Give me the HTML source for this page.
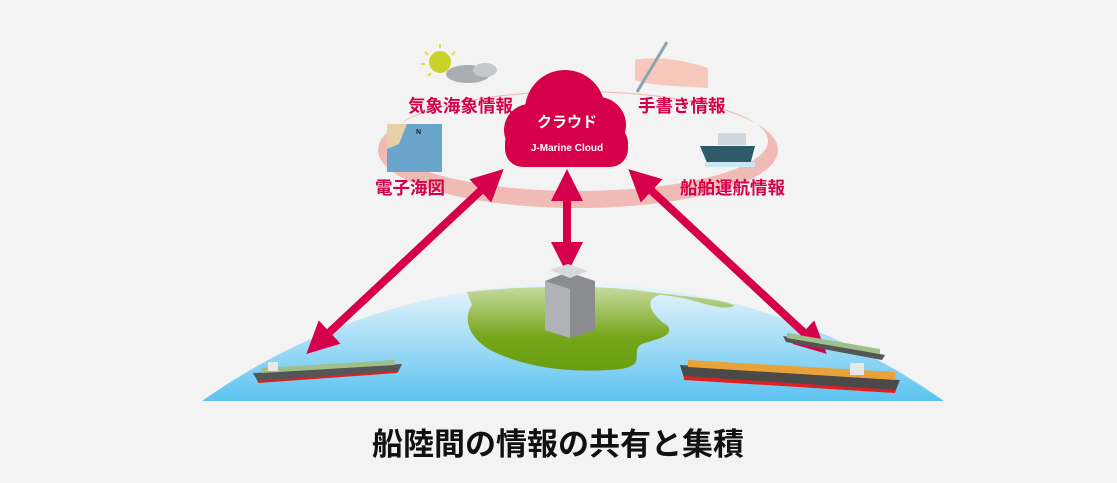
<!DOCTYPE html>
<html><head><meta charset="utf-8"><style>
html,body{margin:0;padding:0;background:#f3f3f3;overflow:hidden;width:1117px;height:483px}
svg{display:block}
text{font-family:"Liberation Sans","Noto Sans CJK JP",sans-serif;font-weight:bold}
</style></head><body>
<svg width="1117" height="483" viewBox="0 0 1117 483" xmlns="http://www.w3.org/2000/svg">
<defs>
<linearGradient id="sea" gradientUnits="userSpaceOnUse" x1="0" y1="283" x2="0" y2="401"><stop offset="0" stop-color="#eaf6fc"/><stop offset="1" stop-color="#5cc3f0"/></linearGradient>
<linearGradient id="land" gradientUnits="userSpaceOnUse" x1="0" y1="286" x2="0" y2="372"><stop offset="0" stop-color="#c8dba0"/><stop offset="0.6" stop-color="#75a51a"/><stop offset="1" stop-color="#6a9e12"/></linearGradient>
<clipPath id="gc"><rect x="0" y="0" width="1117" height="401"/></clipPath>
<marker id="ah" markerWidth="4" markerHeight="4" refX="2" refY="2" orient="auto-start-reverse" markerUnits="strokeWidth"><path d="M0,0 L4,2 L0,4 z" fill="#d6004a"/></marker>
</defs>
<rect width="1117" height="483" fill="#f3f3f3"/>
<g clip-path="url(#gc)">
<circle cx="573" cy="925" r="642" fill="url(#sea)"/>
<path d="M467,292 C520,286 600,284 650,292 C700,298 725,300 735,306 C715,312 700,298 660,295 C640,300 655,318 668,326 C675,338 650,340 640,345 C630,355 650,368 610,370 C560,373 520,365 490,350 C470,338 462,320 472,305 Z" fill="url(#land)"/>
</g>
<path d="M378,150 A200,58 0 1,0 778,150 A200,58 0 1,0 378,150 Z M388,141 A190,50 0 1,1 768,141 A190,50 0 1,1 388,141 Z" fill="#efb5ad" fill-rule="evenodd" opacity="0.9"/>
<g fill="#d6004a">
<circle cx="565" cy="110" r="40"/>
<circle cx="530" cy="130" r="26"/>
<circle cx="598" cy="125" r="28"/>
<rect x="505" y="125" width="123" height="42" rx="18"/>
</g>
<text x="567" y="127" fill="#fff" font-size="15" text-anchor="middle">クラウド</text>
<text x="567" y="151" fill="#fff" font-size="10" text-anchor="middle">J-Marine Cloud</text>
<g stroke="#d6004a" stroke-width="8" fill="none">
<line x1="567" y1="185" x2="567" y2="258" marker-start="url(#ah)" marker-end="url(#ah)"/>
<line x1="492" y1="180" x2="318" y2="343" marker-start="url(#ah)" marker-end="url(#ah)"/>
<line x1="640" y1="180" x2="815" y2="343" marker-start="url(#ah)" marker-end="url(#ah)"/>
</g>
<g fill="#d6004a" font-size="17.5">
<text x="408" y="112">気象海象情報</text>
<text x="638" y="112">手書き情報</text>
<text x="375" y="194">電子海図</text>
<text x="680" y="194">船舶運航情報</text>
</g>
<circle cx="440" cy="62" r="11" fill="#c8d22a"/>
<g stroke="#d8e040" stroke-width="2"><line x1="440" y1="44" x2="440" y2="48"/><line x1="425" y1="52" x2="428" y2="55"/><line x1="455" y1="52" x2="452" y2="55"/><line x1="421" y1="64" x2="425" y2="64"/><line x1="428" y1="76" x2="431" y2="73"/></g>
<ellipse cx="468" cy="74" rx="22" ry="9" fill="#a8adb2"/><ellipse cx="485" cy="70" rx="12" ry="7" fill="#c5c9cd"/>
<rect x="387" y="124" width="55" height="48" fill="#6aa6cc"/><path d="M387,124 h20 l-8,20 l-12,5 z" fill="#e5d0a8"/>
<text x="416" y="134" font-size="7" fill="#222">N</text>
<path d="M635,60 C660,55 690,62 708,68 L708,88 C680,86 650,86 635,80 Z" fill="#f6c9bc"/>
<line x1="667" y1="42" x2="637" y2="92" stroke="#8aa4b0" stroke-width="3"/>
<rect x="718" y="133" width="28" height="12" fill="#cfd6dc"/>
<path d="M700,146 H755 L750,165 H708 Z" fill="#2e5a6a"/>
<rect x="705" y="162" width="50" height="5" fill="#c8e6f4"/>
<path d="M545,281 L568,272 L595,281 L595,330 L570,338 L545,330 Z" fill="#8a8c90"/>
<path d="M545,281 L570,289 L570,338 L545,330 Z" fill="#b0b2b6"/>
<path d="M550,270 L568,264 L588,271 L570,278 Z" fill="#d8d9db"/>
<g>
<path d="M253,373 L402,364 L398,372 L258,382 Z" fill="#555"/>
<path d="M258,381 L398,371 L397,373 L258,383 Z" fill="#e02020"/>
<path d="M262,368 L395,360 L395,365 L262,373 Z" fill="#9fbf8a"/>
<rect x="268" y="362" width="10" height="9" fill="#e8e8e8"/>
<path d="M680,365 L900,380 L895,392 L684,378 Z" fill="#4a4a4a"/>
<path d="M684,376 L896,390 L895,393 L684,380 Z" fill="#e02020"/>
<path d="M688,360 L895,372 L895,380 L688,367 Z" fill="#e9a23a"/>
<rect x="850" y="363" width="14" height="12" fill="#e8e8e8"/>
<path d="M783,336 L885,355 L882,360 L786,342 Z" fill="#555"/>
<path d="M787,333 L880,349 L880,354 L787,338 Z" fill="#9fbf8a"/>
</g>
<text x="558" y="455" font-size="31" fill="#111" text-anchor="middle">船陸間の情報の共有と集積</text>
</svg>
</body></html>
